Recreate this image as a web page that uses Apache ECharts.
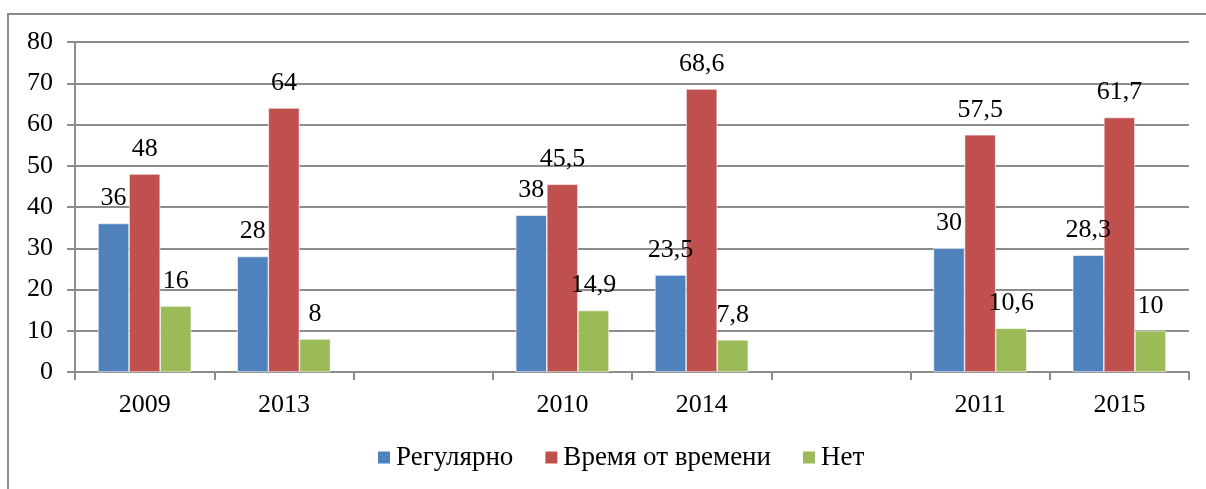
<!DOCTYPE html>
<html>
<head>
<meta charset="utf-8">
<script src="https://cdn.jsdelivr.net/npm/echarts@6/dist/echarts.min.js"></script>
<style>
  html, body { margin: 0; padding: 0; background: #fff; }
  #chart { width: 1206px; height: 489px; }
</style>
</head>
<body>
<div id="chart"></div>
<script>
// годы (пустые ячейки - промежутки между группами)
const categories = ['2009', '2013', '', '2010', '2014', '', '2011', '2015'];
const regular = [36, 28, null, 38, 23.5, null, 30, 28.3];
const sometimes = [48, 64, null, 45.5, 68.6, null, 57.5, 61.7];
const never = [16, 8, null, 14.9, 7.8, null, 10.6, 10];
const yTicks = [0, 10, 20, 30, 40, 50, 60, 70, 80];

const chart = echarts.init(document.getElementById('chart'));
const font = '"Liberation Serif", "Times New Roman", serif';

function makeSeries(name, data, color) {
  return {
    name: name,
    type: 'bar',
    data: data,
    barGap: '0%',
    barCategoryGap: '33%',
    itemStyle: { color: color, borderColor: '#fff', borderWidth: 0.6 },
    label: {
      show: true,
      position: 'top',
      distance: 12,
      color: '#000',
      fontFamily: font,
      fontSize: 26,
      formatter: function (p) {
        return String(p.value).replace('.', ',');
      }
    },
    animation: false
  };
}

chart.setOption({
  textStyle: { fontFamily: font },
  graphic: [{
    type: 'rect',
    shape: { x: 8, y: 14, width: 1300, height: 600 },
    style: { fill: 'none', stroke: '#8c8c8c', lineWidth: 2 },
    silent: true
  }],
  grid: { left: 75, right: 17, top: 42, bottom: 117 },
  legend: {
    top: 444,
    left: 376,
    padding: 0,
    itemWidth: 14,
    itemHeight: 14,
    itemGap: 30,
    icon: 'rect',
    textStyle: { fontFamily: font, fontSize: 27, color: '#000' },
    data: ['Регулярно', 'Время от времени', 'Нет']
  },
  xAxis: {
    type: 'category',
    data: categories,
    axisLine: { lineStyle: { color: '#8c8c8c', width: 2 } },
    axisTick: { show: true, length: 8, lineStyle: { color: '#8c8c8c', width: 2 } },
    axisLabel: { color: '#000', fontFamily: font, fontSize: 26, margin: 20 }
  },
  yAxis: {
    type: 'value',
    min: yTicks[0],
    max: yTicks[yTicks.length - 1],
    interval: 10,
    axisLine: { show: true, lineStyle: { color: '#8c8c8c', width: 2 } },
    axisTick: { show: true, length: 8, lineStyle: { color: '#8c8c8c', width: 2 } },
    axisLabel: { color: '#000', fontFamily: font, fontSize: 26, margin: 22 },
    splitLine: { lineStyle: { color: '#8c8c8c', width: 2 } }
  },
  series: [
    makeSeries('Регулярно', regular, '#4F81BD'),
    makeSeries('Время от времени', sometimes, '#C0504D'),
    makeSeries('Нет', never, '#9BBB59')
  ]
});
</script>
</body>
</html>
